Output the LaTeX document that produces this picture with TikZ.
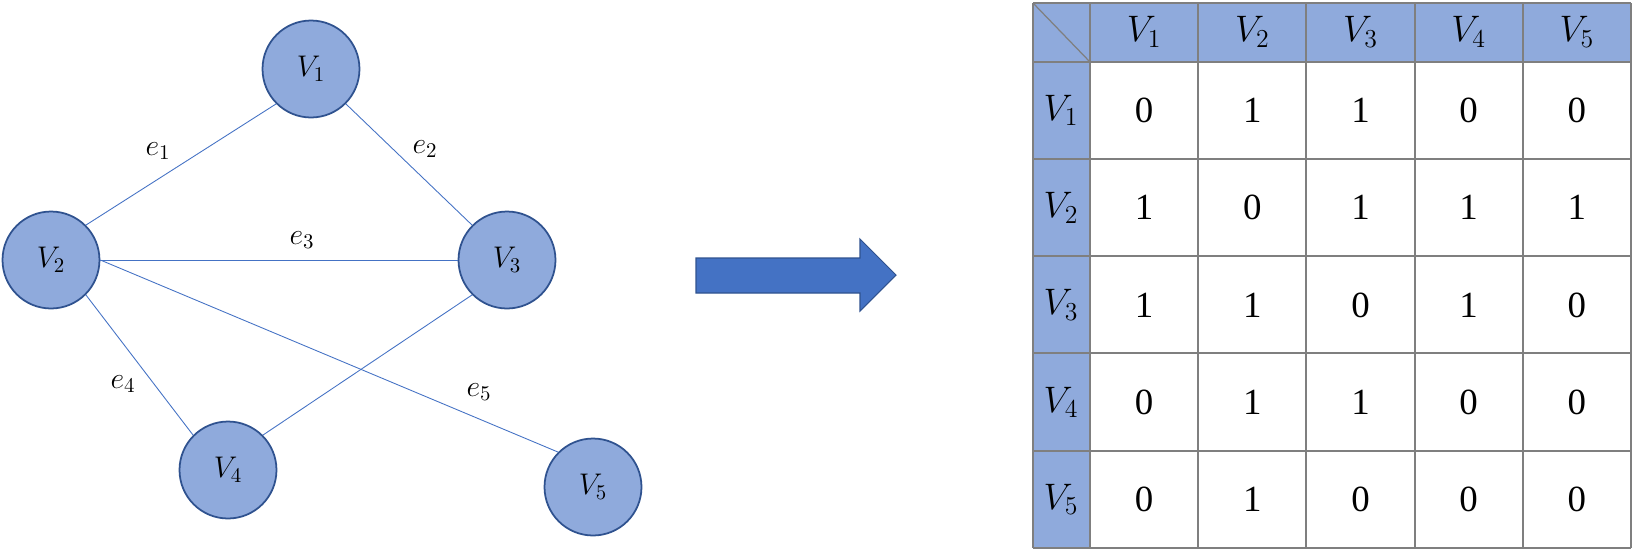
\RequirePackage{fix-cm}
\documentclass[tikz,border=0pt]{standalone}
\usepackage{fontspec}
\setmainfont{Liberation Serif}
\usepackage{tikz}
\usetikzlibrary{positioning}

\definecolor{vfill}{HTML}{8FAADC}
\definecolor{vline}{HTML}{2F528F}
\definecolor{eblue}{HTML}{4472C4}
\definecolor{gridgray}{HTML}{7F7F7F}

\tikzset{
  vertex/.style={circle, draw=vline, fill=vfill, line width=1pt, minimum size=1.94cm, inner sep=0pt, font=\fontsize{17}{20}\selectfont},
  edge/.style={draw=eblue, line width=0.5pt},
  elabel/.style={font=\fontsize{17}{20}\selectfont},
  head/.style={font=\fontsize{21}{24}\selectfont},
  cell/.style={font=\fontsize{21}{24}\selectfont},
  gridline/.style={draw=gridgray, line width=1.1pt},
}

\begin{document}
\begin{tikzpicture}[x=0.02cm, y=-0.02cm]
\useasboundingbox (0,0) rectangle (1633,552);
% Graph vertices
\node[vertex] (v1) at (311,69) {$V_1$};
\node[vertex] (v2) at (51,260) {$V_2$};
\node[vertex] (v3) at (507,260) {$V_3$};
\node[vertex] (v4) at (228,470) {$V_4$};
\node[vertex] (v5) at (593,487) {$V_5$};
% Edges
\draw[edge] (v2.north east) -- (v1.south west);
\draw[edge] (v1.south east) -- (v3.north west);
\draw[edge] (v2.east) -- (v3.west);
\draw[edge] (v2.south east) -- (v4.north west);
\draw[edge] (v2.east) -- (v5.north west);
\draw[edge] (v3.south west) -- (v4.north east);
% Edge labels
\node[elabel] (l1) at (158,151) {$e_1$};
\node[elabel] (l2) at (425,149) {$e_2$};
\node[elabel] (l3) at (302,240) {$e_3$};
\node[elabel] (l4) at (123,384) {$e_4$};
\node[elabel] (l5) at (479,392) {$e_5$};
% Big arrow
\draw[fill=eblue, draw=vline, line width=0.6pt]
  (696,258) -- (860,258) -- (860,239) -- (896,275) -- (860,311) -- (860,293) -- (696,293) -- cycle;
% Adjacency table: shaded header row and column
\fill[vfill] (1033,3) rectangle (1631,62);
\fill[vfill] (1033,62) rectangle (1090,548);
% grid
\foreach \x in {1033,1090,1198,1306,1415,1523,1631} {
  \draw[gridline] (\x,3) -- (\x,548);
}
\foreach \y in {3,62,159,256,353,451,548} {
  \draw[gridline] (1033,\y) -- (1631,\y);
}
\draw[gridline, line width=0.7pt] (1033,3) -- (1090,62);
% header labels
\foreach \j in {1,...,5} {
  \node[head] (h\j) at (1090+108.2*\j-54.1,32) {$V_\j$};
  \node[head] (r\j) at (1061,62+97.2*\j-48.6) {$V_\j$};
}
% entries
\foreach \vals [count=\i] in {{0,1,1,0,0},{1,0,1,1,1},{1,1,0,1,0},{0,1,1,0,0},{0,1,0,0,0}} {
  \foreach \v [count=\j] in \vals {
    \node[cell] (c\i\j) at (1090+108.2*\j-54.1, 62+97.2*\i-48.6) {\v};
  }
}
\end{tikzpicture}
\end{document}
